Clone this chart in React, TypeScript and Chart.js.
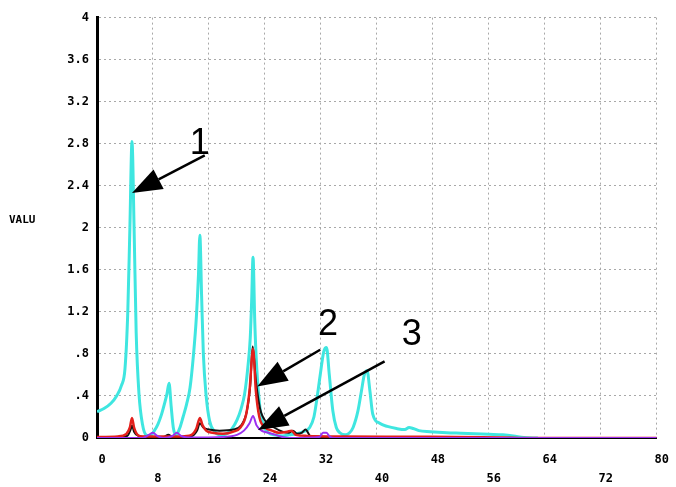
import React, { useEffect, useRef } from 'react';
import { Chart, registerables } from 'chart.js';

Chart.register(...registerables);

// ---- axes ----
const X_MIN = 0;
const X_MAX = 80;
const X_STEP = 8;
const Y_MIN = 0;
const Y_MAX = 4;
const Y_STEP = 0.4;
const Y_TITLE = 'VALU';

// ---- series 1 (cyan) ----
const cyanX = [0, 1, 2, 2.8, 3.5, 4.0, 4.4, 4.7, 5.0, 5.3, 5.6, 6.0, 6.5, 7.0, 7.6, 8.2, 8.7, 9.2, 9.7, 10.0, 10.3, 10.6, 10.9, 11.3, 11.8, 12.3, 12.8, 13.3, 13.8, 14.2, 14.5, 14.7, 14.95, 15.2, 15.6, 16.1, 16.8, 17.6, 18.5, 19.3, 20.0, 20.6, 21.1, 21.6, 21.9, 22.1, 22.3, 22.55, 22.8, 23.3, 23.8, 24.5, 25.3, 26.5, 27.5, 28.5, 29.5, 30.4, 31.0, 31.4, 31.9, 32.4, 32.8, 33.2, 33.7, 34.2, 34.7, 35.5, 36.1, 36.6, 37.3, 37.8, 38.2, 38.6, 39.0, 39.4, 40.4, 41.5, 42.8, 44.0, 44.6, 45.2, 46.0, 47.6, 50.0, 52.0, 54.0, 56.0, 58.0, 59.5, 61.0, 63.0];
const cyanY = [0.25, 0.28, 0.33, 0.4, 0.5, 0.66, 1.2, 2.0, 2.82, 2.0, 1.0, 0.42, 0.13, 0.03, 0.02, 0.07, 0.13, 0.22, 0.34, 0.42, 0.52, 0.3, 0.1, 0.03, 0.09, 0.2, 0.32, 0.48, 0.8, 1.15, 1.55, 1.93, 1.35, 0.8, 0.4, 0.16, 0.06, 0.03, 0.04, 0.09, 0.17, 0.28, 0.42, 0.7, 0.95, 1.3, 1.72, 1.1, 0.7, 0.28, 0.12, 0.05, 0.03, 0.02, 0.03, 0.04, 0.06, 0.1, 0.2, 0.36, 0.6, 0.82, 0.86, 0.6, 0.26, 0.1, 0.05, 0.03, 0.05, 0.1, 0.26, 0.45, 0.6, 0.64, 0.45, 0.23, 0.14, 0.11, 0.09, 0.08, 0.1, 0.09, 0.07, 0.06, 0.05, 0.045, 0.04, 0.035, 0.03, 0.02, 0.005, 0];

// ---- series 2 (red) ----
const redX = [0, 3, 4.2, 4.7, 5.0, 5.3, 5.8, 6.5, 9, 12, 13.5, 14.2, 14.7, 15.1, 15.6, 16.5, 18, 19.5, 20.5, 21.3, 21.8, 22.3, 22.7, 23.2, 24, 25, 26, 27.2, 27.8, 28.4, 30, 35, 45, 55, 58, 62, 80];
const redY = [0.01, 0.015, 0.04, 0.1, 0.19, 0.1, 0.03, 0.015, 0.015, 0.015, 0.03, 0.09, 0.19, 0.12, 0.07, 0.05, 0.04, 0.06, 0.1, 0.22, 0.45, 0.85, 0.45, 0.2, 0.1, 0.07, 0.05, 0.06, 0.07, 0.03, 0.02, 0.015, 0.012, 0.008, 0.005, 0, 0];

// ---- series black ----
const blackX = [0, 4.3, 4.8, 5.0, 5.3, 5.9, 7, 9.5, 10.2, 10.8, 13.6, 14.3, 14.7, 15.2, 16, 17.5, 19.5, 20.6, 21.4, 21.9, 22.25, 22.7, 23.3, 24.2, 25.3, 26.5, 27.4, 28.0, 28.6, 29.3, 29.8, 30.5, 34, 40, 50, 80];
const blackY = [0.005, 0.02, 0.08, 0.12, 0.06, 0.02, 0.01, 0.01, 0.03, 0.01, 0.02, 0.07, 0.14, 0.1, 0.08, 0.07, 0.08, 0.12, 0.25, 0.5, 0.87, 0.55, 0.28, 0.15, 0.1, 0.06, 0.05, 0.07, 0.04, 0.05, 0.08, 0.02, 0.01, 0.005, 0, 0];

// ---- series 3 (purple) ----
const purpleX = [0, 6.5, 7.4, 8.0, 8.6, 9.5, 10.8, 11.4, 12.0, 13.0, 18, 20, 21, 21.8, 22.3, 22.8, 23.5, 24.5, 25.5, 26.5, 27.5, 31.8, 32.3, 32.8, 33.3, 34, 80];
const purpleY = [0, 0, 0.03, 0.05, 0.02, 0, 0.02, 0.05, 0.02, 0.005, 0.01, 0.03, 0.07, 0.14, 0.21, 0.12, 0.07, 0.05, 0.03, 0.01, 0, 0.01, 0.05, 0.05, 0.01, 0, 0];

// ---- annotations (data coordinates) ----
const arrowLabels = ['1', '2', '3'];
const arrowTipX = [5.0, 22.9, 23.0];
const arrowTipY = [2.33, 0.49, 0.075];
const arrowTailX = [15.4, 31.9, 41.1];
const arrowTailY = [2.69, 0.84, 0.73];
const labelX = [14.7, 33.0, 45.0];
const labelY = [2.8, 1.07, 0.98];

const toPoints = (xs: number[], ys: number[]) => xs.map((x, i) => ({ x, y: ys[i] }));

const fmtY = (v: number) => {
  const r = Math.round(v * 10) / 10;
  if (r === 0) return '0';
  let s = String(r);
  if (s.startsWith('0.')) s = s.slice(1);
  return s;
};

const annotationPlugin = {
  id: 'arrowsAndTitle',
  afterDatasetsDraw(chart: any) {
    const { ctx, scales } = chart;
    const xs = scales.x;
    const ys = scales.y;
    ctx.save();
    ctx.strokeStyle = '#000';
    ctx.fillStyle = '#000';
    for (let i = 0; i < arrowLabels.length; i++) {
      const tx = xs.getPixelForValue(arrowTipX[i]);
      const ty = ys.getPixelForValue(arrowTipY[i]);
      const sx = xs.getPixelForValue(arrowTailX[i]);
      const sy = ys.getPixelForValue(arrowTailY[i]);
      const ang = Math.atan2(ty - sy, tx - sx);
      const headLen = 30;
      const headW = 11;
      const bx = tx - headLen * Math.cos(ang);
      const by = ty - headLen * Math.sin(ang);
      ctx.lineWidth = 2.5;
      ctx.beginPath();
      ctx.moveTo(sx, sy);
      ctx.lineTo(bx, by);
      ctx.stroke();
      ctx.beginPath();
      ctx.moveTo(tx, ty);
      ctx.lineTo(bx + headW * Math.sin(ang), by - headW * Math.cos(ang));
      ctx.lineTo(bx - headW * Math.sin(ang), by + headW * Math.cos(ang));
      ctx.closePath();
      ctx.fill();
      ctx.font = '36px "Liberation Sans", Arial, sans-serif';
      ctx.textAlign = 'center';
      ctx.textBaseline = 'middle';
      ctx.fillText(arrowLabels[i], xs.getPixelForValue(labelX[i]), ys.getPixelForValue(labelY[i]));
    }
    // y-axis title (horizontal, left of ticks)
    ctx.font = 'bold 11px "DejaVu Sans Mono", monospace';
    ctx.textAlign = 'left';
    ctx.textBaseline = 'middle';
    const area = chart.chartArea;
    ctx.fillText(Y_TITLE, 9, area.top + (area.bottom - area.top) * 0.482);
    ctx.restore();
  },
};

export default function App() {
  const ref = useRef<HTMLCanvasElement | null>(null);
  useEffect(() => {
    if (!ref.current) return;
    const tickFont = { family: '"DejaVu Sans Mono", monospace', size: 12, weight: 'bold' as const, lineHeight: 1.6 };
    const chart = new Chart(ref.current, {
      type: 'line',
      data: {
        datasets: [
          { label: '3', data: toPoints(purpleX, purpleY), borderColor: '#9b30f0', borderWidth: 2, pointRadius: 0, order: 1, cubicInterpolationMode: 'monotone' },
          { label: '2', data: toPoints(redX, redY), borderColor: '#e3201c', borderWidth: 2.5, pointRadius: 0, order: 2, cubicInterpolationMode: 'monotone' },
          { label: 'b', data: toPoints(blackX, blackY), borderColor: '#111111', borderWidth: 2, pointRadius: 0, order: 3, cubicInterpolationMode: 'monotone' },
          { label: '1', data: toPoints(cyanX, cyanY), borderColor: '#3fe6e0', borderWidth: 3, pointRadius: 0, order: 4, cubicInterpolationMode: 'monotone' },
        ],
      },
      options: {
        animation: false,
        responsive: true,
        maintainAspectRatio: false,
        layout: { padding: { top: 13, right: 19, left: 0, bottom: 0 } },
        plugins: { legend: { display: false }, tooltip: { enabled: false } },
        scales: {
          x: {
            type: 'linear',
            min: X_MIN,
            max: X_MAX,
            afterFit: (s: any) => { s.height = 49; },
            grid: { color: '#a8a8a8', drawTicks: false, lineWidth: 1 },
            border: { color: '#000', width: 2, dash: [2, 3] },
            ticks: {
              stepSize: X_STEP,
              padding: 12,
              labelOffset: 5,
              color: '#000',
              font: tickFont,
              maxRotation: 0,
              autoSkip: false,
              callback: (v: any) => {
                const n = Math.round(Number(v));
                return (n / X_STEP) % 2 === 0 ? [String(n), ''] : ['', String(n)];
              },
            },
          },
          y: {
            type: 'linear',
            min: Y_MIN,
            max: Y_MAX,
            afterFit: (s: any) => { s.width = 97; },
            grid: { color: '#a8a8a8', drawTicks: false, lineWidth: 1 },
            border: { color: '#000', width: 3, dash: [2, 3] },
            ticks: {
              stepSize: Y_STEP,
              padding: 8,
              color: '#000',
              font: tickFont,
              callback: (v: any) => fmtY(Number(v)),
            },
          },
        },
      },
      plugins: [annotationPlugin],
    });
    return () => chart.destroy();
  }, []);
  return (
    <div style={{ position: 'fixed', left: 0, top: 0, width: 676, height: 487, background: '#fff' }}>
      <canvas ref={ref} />
    </div>
  );
}
